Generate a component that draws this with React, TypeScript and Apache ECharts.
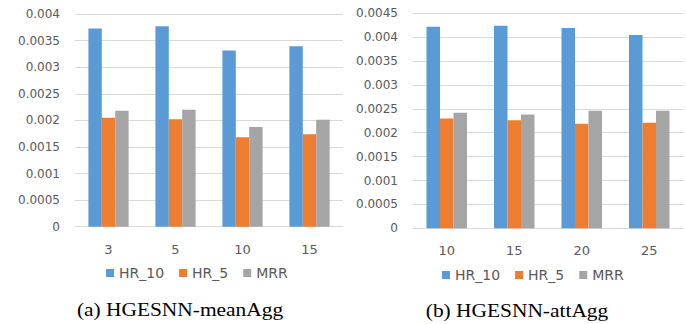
import React, { useEffect, useRef } from "react";
import * as echarts from "echarts";

const seriesNames = ["HR_10", "HR_5", "MRR"];
const colors = ["#5B9BD5", "#ED7D31", "#A5A5A5"];

const catsA = ["3", "5", "10", "15"];
const hr10A = [0.003725, 0.00377, 0.003315, 0.003395];
const hr5A = [0.00205, 0.00202, 0.00168, 0.00174];
const mrrA = [0.00218, 0.0022, 0.001875, 0.00201];

const catsB = ["10", "15", "20", "25"];
const hr10B = [0.00422, 0.00424, 0.00419, 0.004045];
const hr5B = [0.0023, 0.00226, 0.00219, 0.00221];
const mrrB = [0.00242, 0.00238, 0.00246, 0.00246];

const captionA = "(a) HGESNN-meanAgg";
const captionB = "(b) HGESNN-attAgg";

export default function App() {
  const ref = useRef<HTMLDivElement>(null);
  useEffect(() => {
    if (!ref.current) return;
    const chart = echarts.init(ref.current, null, { renderer: "svg" });
    const font = "DejaVu Sans";
    const txt = "#595959";
    const fmt = (v: number) => String(parseFloat(v.toFixed(5)));
    const mkX = (idx: number, cats: string[]) => ({
      type: "category",
      gridIndex: idx,
      data: cats,
      axisTick: { show: false },
      axisLine: { lineStyle: { color: "#D9D9D9", width: 1 } },
      axisLabel: { color: txt, fontFamily: font, fontSize: 13, margin: 16 },
    });
    const mkY = (idx: number, max: number) => ({
      type: "value",
      gridIndex: idx,
      min: 0,
      max,
      interval: 0.0005,
      axisLine: { show: false },
      axisTick: { show: false },
      splitLine: { lineStyle: { color: "#D9D9D9", width: 1 } },
      axisLabel: { color: txt, fontFamily: font, fontSize: 12, margin: 15, formatter: fmt },
    });
    const mkSeries = (idx: number, data: number[][]) =>
      data.map((d, i) => ({
        type: "bar",
        name: seriesNames[i],
        xAxisIndex: idx,
        yAxisIndex: idx,
        data: d,
        barGap: "0%",
        barCategoryGap: "40%",
        itemStyle: { color: colors[i] },
      }));
    const mkLegend = (left: number, top: number) => ({
      left,
      top,
      padding: 0,
      data: seriesNames,
      icon: "rect",
      itemWidth: 8,
      itemHeight: 8,
      itemGap: 15,
      textStyle: { color: txt, fontFamily: font, fontSize: 14 },
      selectedMode: false,
    });
    chart.setOption({
      animation: false,
      color: colors,
      grid: [
        { left: 75, top: 14, width: 268, height: 212.7, containLabel: false },
        { left: 413, top: 13.3, width: 270, height: 215, containLabel: false },
      ],
      xAxis: [mkX(0, catsA), mkX(1, catsB)],
      yAxis: [mkY(0, 0.004), mkY(1, 0.0045)],
      legend: [mkLegend(106, 266), mkLegend(442, 268)],
      series: [
        ...mkSeries(0, [hr10A, hr5A, mrrA]),
        ...mkSeries(1, [hr10B, hr5B, mrrB]),
      ],
      graphic: [
        {
          type: "text",
          x: 180,
          y: 310,
          scaleX: 1.19,
          style: {
            text: captionA,
            fontFamily: "Liberation Serif",
            fontSize: 18,
            fill: "#000",
            align: "center",
            verticalAlign: "middle",
          },
        },
        {
          type: "text",
          x: 517,
          y: 311,
          scaleX: 1.19,
          style: {
            text: captionB,
            fontFamily: "Liberation Serif",
            fontSize: 18,
            fill: "#000",
            align: "center",
            verticalAlign: "middle",
          },
        },
      ],
    });
    return () => chart.dispose();
  }, []);
  return (
    <div
      ref={ref}
      style={{ position: "fixed", left: 0, top: 0, width: 686, height: 324, background: "#fff" }}
    />
  );
}
